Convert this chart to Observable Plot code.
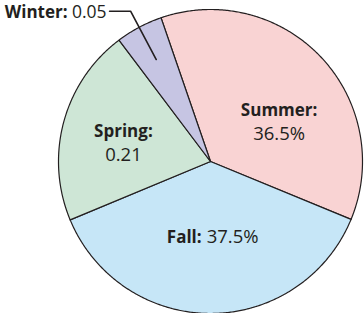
<!DOCTYPE html>
<html>
<head>
<meta charset="utf-8">
<script src="https://cdn.jsdelivr.net/npm/d3@7"></script>
<script src="https://cdn.jsdelivr.net/npm/@observablehq/plot@0.6"></script>
<style>
  html, body { margin: 0; padding: 0; background: #fff; }
  #chart svg { display: block; }
</style>
</head>
<body>
<div id="chart"></div>
<script>
// ---- data ----
const seasons = ["Summer", "Fall", "Spring", "Winter"];
const shares = [36.5, 37.5, 21, 5];
const valueLabels = ["36.5%", "37.5%", "0.21", "0.05"];
const nameLabels = ["Summer:", "Fall:", "Spring:", "Winter:"];
const sliceColors = ["#f9d3d3", "#c6e6f7", "#cee6d6", "#c6c5e3"];

// ---- layout ----
const W = 364, H = 313;
const cx = 210, cy = 161, R = 152;
const startDeg = -19;
const ink = "#231f20";
const font = "Open Sans, sans-serif";
const fsName = 17, fsVal = 18.5;

const table = seasons.map((s, i) => ({season: s, value: shares[i], name: nameLabels[i], label: valueLabels[i]}));
const arcs = d3.pie().sort(null).value(d => d.value)
  .startAngle(startDeg * Math.PI / 180)
  .endAngle(startDeg * Math.PI / 180 + 2 * Math.PI)(table);

// polar (angle clockwise from up, radius in units of R) -> data coords
const P = (a, r) => ({x: r * Math.sin(a), y: r * Math.cos(a)});
// shift by pixel offsets
const shift = (p, dx, dy) => ({x: p.x + dx / R, y: p.y - dy / R});

// slice outlines built from the pie angles
const outline = [];
for (const a of arcs) {
  const n = Math.max(2, Math.ceil((a.endAngle - a.startAngle) / (Math.PI / 360)));
  outline.push({season: a.data.season, ...P(0, 0)});
  for (let k = 0; k <= n; k++) {
    const t = a.startAngle + (a.endAngle - a.startAngle) * k / n;
    outline.push({season: a.data.season, ...P(t, 1)});
  }
  outline.push({season: a.data.season, ...P(0, 0)});
}

const mid = a => (a.startAngle + a.endAngle) / 2;
const arcOf = s => arcs.find(a => a.data.season === s);

// inside labels (two-line): Summer, Spring
const twoLine = [
  {arc: arcOf("Summer"), r: 0.53, dx: 10, dy: 16},
  {arc: arcOf("Spring"), r: 0.58, dx: -2, dy: 5}
].map(o => ({...shift(P(mid(o.arc), o.r), o.dx, o.dy), name: o.arc.data.name, label: o.arc.data.label}));

// inline label: Fall
const fallArc = arcOf("Fall");
const fall = [{...P(mid(fallArc), 0.5), name: fallArc.data.name, label: fallArc.data.label}];

// outside label with leader: Winter
const winArc = arcOf("Winter");
const wIn = P(mid(winArc), 0.76), wElbow = P(mid(winArc), 1.12);
const wEnd = shift(wElbow, -21, 0);
const leader = [wIn, wElbow, wEnd];
const winter = [{...wEnd, name: winArc.data.name, label: winArc.data.label}];

const nm = {fontSize: fsName, fill: ink, lineAnchor: "middle", fontWeight: "bold"};
const vl = {fontSize: fsVal, fill: ink, lineAnchor: "middle", fontWeight: 500};

const chart = Plot.plot({
  width: W, height: H,
  margin: 0,
  x: {domain: [-1, 1], range: [cx - R, cx + R], axis: null},
  y: {domain: [-1, 1], range: [cy + R, cy - R], axis: null},
  color: {domain: seasons, range: sliceColors},
  style: {fontFamily: font, background: "#fff", overflow: "visible"},
  marks: [
    Plot.line(outline, {x: "x", y: "y", z: "season", fill: "season", stroke: ink, strokeWidth: 1.2, strokeLinejoin: "round"}),
    Plot.line(leader, {x: "x", y: "y", stroke: ink, strokeWidth: 1.6}),
    // Summer / Spring: bold name above, value below
    Plot.text(twoLine, {x: "x", y: "y", text: "name", dy: -12, ...nm}),
    Plot.text(twoLine, {x: "x", y: "y", text: "label", dy: 12, ...vl}),
    // Fall: inline
    Plot.text(fall, {x: "x", y: "y", text: "name", textAnchor: "end", dx: -9, ...nm}),
    Plot.text(fall, {x: "x", y: "y", text: "label", textAnchor: "start", dx: -4, ...vl}),
    // Winter: outside, at end of leader
    Plot.text(winter, {x: "x", y: "y", text: "label", textAnchor: "end", dx: -3, dy: 1.5, ...vl, fontSize: fsName + 0.5}),
    Plot.text(winter, {x: "x", y: "y", text: "name", textAnchor: "end", dx: -42, dy: 1.5, ...nm})
  ]
});
document.getElementById("chart").appendChild(chart);
</script>
</body>
</html>
